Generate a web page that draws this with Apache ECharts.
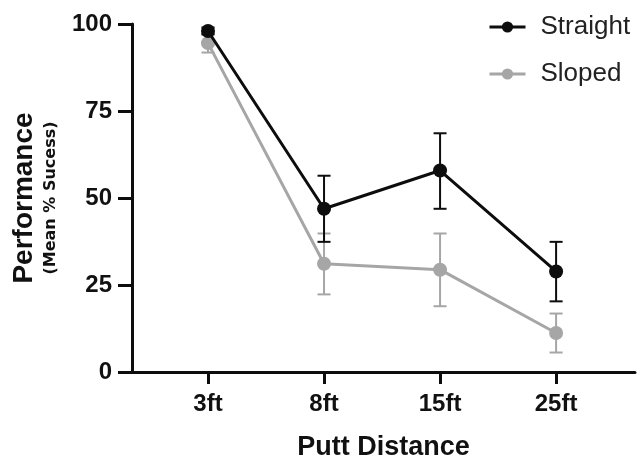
<!DOCTYPE html>
<html>
<head>
<meta charset="utf-8">
<script src="https://cdn.jsdelivr.net/npm/echarts@6/dist/echarts.min.js"></script>
<style>html,body{margin:0;padding:0;background:#fff;}#c{width:638px;height:466px;}</style>
</head>
<body>
<div id="c"></div>
<script>
var categories = ['3ft', '8ft', '15ft', '25ft'];
var straightMean = [98.0, 46.9, 57.9, 28.9];
var straightLow  = [97.0, 37.4, 46.9, 20.3];
var straightHigh = [99.0, 56.4, 68.6, 37.4];
var slopedMean = [94.5, 31.1, 29.4, 11.2];
var slopedLow  = [91.8, 22.3, 18.9, 5.6];
var slopedHigh = [97.2, 39.8, 39.8, 16.8];
var yTicks = [0, 25, 50, 75, 100];

var BLACK = '#0d0d0d';
var GRAY = '#a6a6a6';
var FONT = 'Liberation Sans, Arial, sans-serif';

function pts(arr) { return arr.map(function (v, i) { return [i, v]; }); }
function errs(lo, hi) { return lo.map(function (v, i) { return [i, v, hi[i]]; }); }

function errRender(color) {
  return function (params, api) {
    var x = api.value(0);
    var p1 = api.coord([x, api.value(1)]);
    var p2 = api.coord([x, api.value(2)]);
    var hw = 6.5;
    var style = { stroke: color, lineWidth: 2 };
    return {
      type: 'group',
      children: [
        { type: 'line', shape: { x1: p1[0], y1: p1[1], x2: p2[0], y2: p2[1] }, style: style },
        { type: 'line', shape: { x1: p1[0] - hw, y1: p1[1], x2: p1[0] + hw, y2: p1[1] }, style: style },
        { type: 'line', shape: { x1: p2[0] - hw, y1: p2[1], x2: p2[0] + hw, y2: p2[1] }, style: style }
      ]
    };
  };
}

var chart = echarts.init(document.getElementById('c'), null, { renderer: 'canvas' });
chart.setOption({
  animation: false,
  backgroundColor: '#ffffff',
  grid: { left: 132, right: 3, top: 24, bottom: 90, containLabel: false },
  legend: {
    orient: 'vertical',
    left: 483,
    top: 9,
    itemWidth: 36,
    itemHeight: 14,
    itemGap: 21,
    data: ['Straight', 'Sloped'],
    lineStyle: { width: 3 },
    textStyle: { fontFamily: FONT, fontSize: 26, color: '#222', padding: [0, 0, 0, 10] }
  },
  xAxis: {
    type: 'value',
    min: -0.655,
    max: 3.68,
    splitLine: { show: false },
    axisLine: { show: true, onZero: false, lineStyle: { color: BLACK, width: 3 } },
    axisTick: { show: true, customValues: [0, 1, 2, 3], length: 12, lineStyle: { color: BLACK, width: 3 } },
    axisLabel: {
      customValues: [0, 1, 2, 3],
      formatter: function (v) { return categories[Math.round(v)]; },
      margin: 20,
      fontFamily: FONT, fontSize: 24, fontWeight: 'bold', color: '#111'
    },
    name: 'Putt Distance',
    nameLocation: 'middle',
    nameGap: 62,
    nameTextStyle: { fontFamily: FONT, fontSize: 27, fontWeight: 'bold', color: '#111' }
  },
  yAxis: {
    type: 'value',
    min: 0,
    max: 100,
    interval: 25,
    splitLine: { show: false },
    axisLine: { show: true, onZero: false, lineStyle: { color: BLACK, width: 3 } },
    axisTick: { show: true, length: 14, lineStyle: { color: BLACK, width: 3 } },
    axisLabel: {
      margin: 20,
      formatter: function (v) { return yTicks.indexOf(v) >= 0 ? String(v) : ''; },
      fontFamily: FONT, fontSize: 24, fontWeight: 'bold', color: '#111'
    }
  },
  graphic: [
    {
      type: 'text', x: 24, y: 198, rotation: Math.PI / 2,
      style: { text: 'Performance', fontFamily: FONT, fontSize: 28, fontWeight: 'bold', fill: '#111', align: 'center', verticalAlign: 'middle' }
    },
    {
      type: 'text', x: 51, y: 198, rotation: Math.PI / 2,
      style: { text: '(Mean % Sucess)', fontFamily: 'DejaVu Sans', fontSize: 16, fontWeight: 'bold', fill: '#111', align: 'center', verticalAlign: 'middle' }
    }
  ],
  series: [
    {
      name: 'SlopedErr', type: 'custom', renderItem: errRender(GRAY),
      data: errs(slopedLow, slopedHigh), encode: { x: 0, y: [1, 2] }, z: 1, silent: true
    },
    {
      name: 'Sloped', type: 'line', data: pts(slopedMean),
      symbol: 'circle', symbolSize: 14,
      lineStyle: { color: GRAY, width: 3 }, itemStyle: { color: GRAY }, z: 2
    },
    {
      name: 'StraightErr', type: 'custom', renderItem: errRender(BLACK),
      data: errs(straightLow, straightHigh), encode: { x: 0, y: [1, 2] }, z: 3, silent: true
    },
    {
      name: 'Straight', type: 'line', data: pts(straightMean),
      symbol: 'circle', symbolSize: 14,
      lineStyle: { color: BLACK, width: 3 }, itemStyle: { color: BLACK }, z: 4
    }
  ]
});
</script>
</body>
</html>
